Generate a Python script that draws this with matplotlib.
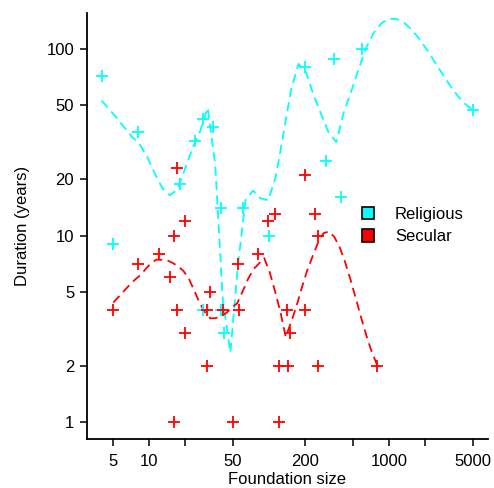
import numpy as np
import matplotlib
matplotlib.use('Agg')
import matplotlib.pyplot as plt
from matplotlib.patches import Patch

plt.rcParams['font.family'] = ['Liberation Sans', 'DejaVu Sans']

# ---- data ----
groups = ['Religious', 'Secular']
colors = {'Religious': '#00FFFF', 'Secular': '#FF0000'}

rel_size = [4, 5, 8, 18, 24, 28, 34, 40, 61, 100, 28, 40, 42, 200, 350, 600, 5000, 300, 400]
rel_duration = [72, 9, 36, 19, 32, 42, 38, 14, 14, 10, 4, 4, 3, 80, 88, 100, 47, 25, 16]

sec_size = [17, 20, 97, 112, 16, 12, 8, 15, 32, 5, 17, 30, 41, 56, 55, 80, 20, 30, 16, 50,
            120, 120, 145, 141, 150, 200, 240, 256, 200, 256, 800]
sec_duration = [23, 12, 12, 13, 10, 8, 7, 6, 5, 4, 4, 4, 4, 4, 7, 8, 3, 2, 1, 1,
                1, 2, 2, 4, 3, 21, 13, 10, 4, 2, 2]

x_ticks = [5, 10, 20, 50, 200, 500, 1000, 2000, 5000]
x_ticklabels = ['5', '10', '', '50', '200', '', '1000', '', '5000']
y_ticks = [1, 2, 5, 10, 20, 50, 100]
y_ticklabels = ['1', '2', '5', '10', '20', '50', '100']

SPAN = 0.3


# ---- loess (degree 1, symmetric family, kd-tree + Hermite interpolation) on log-log scale ----
def _local_fit(x, y, x0, q, span, deg, rw):
    d = np.abs(x - x0)
    rho = np.sort(d)[q - 1] * max(1.0, span)
    u = d / max(rho, 1e-12)
    w = np.where(u < 1, (1 - u ** 3) ** 3, 0.0) * rw
    X = np.vander(x - x0, deg + 1, increasing=True)
    sw = np.sqrt(w)
    beta = np.linalg.lstsq(X * sw[:, None], y * sw, rcond=1e-7)[0]
    return beta[0], (beta[1] if deg >= 1 else 0.0)


def loess_smooth(x, y, span, npts=50, deg=1, iterations=4):
    x = np.asarray(x, float)
    y = np.asarray(y, float)
    n = len(x)
    q = int(np.floor(n * span + 1e-5))
    fc = int(np.floor(n * span * 0.2))
    sx = np.sort(x)
    marg = 0.005 * (sx[-1] - sx[0])
    verts = [sx[0] - marg, sx[-1] + marg]

    def split(pts):
        if len(pts) <= fc:
            return
        m = (len(pts) + 1) // 2
        for off in [0, -1, 1, -2, 2, -3, 3, -4, 4, -5, 5]:
            mm = m + off
            if 1 <= mm < len(pts) and pts[mm - 1] != pts[mm]:
                verts.append(pts[mm - 1])
                split(pts[:mm])
                split(pts[mm:])
                return

    split(sx)
    verts = np.unique(verts)

    def evaluate(rw, pts):
        vals = np.array([_local_fit(x, y, v, q, span, deg, rw) for v in verts])
        out = []
        for a in pts:
            i = min(max(np.searchsorted(verts, a) - 1, 0), len(verts) - 2)
            v0, v1 = verts[i], verts[i + 1]
            h = v1 - v0
            t = (a - v0) / h
            out.append(vals[i, 0] * (2 * t ** 3 - 3 * t ** 2 + 1) + h * vals[i, 1] * (t ** 3 - 2 * t ** 2 + t)
                       + vals[i + 1, 0] * (-2 * t ** 3 + 3 * t ** 2) + h * vals[i + 1, 1] * (t ** 3 - t ** 2))
        return np.array(out)

    rw = np.ones(n)
    for j in range(iterations - 1):
        res = y - evaluate(rw, x)
        cmad = 6 * np.median(np.abs(res))
        uu = np.abs(res) / (cmad + 1e-12)
        rw = np.where(uu < 0.999, (1 - uu ** 2) ** 2, 0.0)
        rw = np.where(uu <= 0.001, 1.0, rw)
    xs = np.linspace(x.min(), x.max(), npts)
    return xs, evaluate(rw, xs)


# ---- figure ----
W, H = 494, 488
fig = plt.figure(figsize=(W / 100, H / 100), dpi=100)
left, right, top, bottom = 86.7, 488.0, 13.0, 439.0
ax = fig.add_axes([left / W, 1 - bottom / H, (right - left) / W, (bottom - top) / H])

data = {'Religious': (rel_size, rel_duration), 'Secular': (sec_size, sec_duration)}
for g in groups:
    sx, sy = data[g]
    lx, ly = loess_smooth(np.log10(sx), np.log10(sy), SPAN)
    ax.plot(10 ** lx, 10 ** ly, color=colors[g], lw=1.3, dashes=(5, 3), zorder=2)
for g in groups:
    sx, sy = data[g]
    ax.plot(sx, sy, linestyle='none', marker='+', color=colors[g], ms=8.5, mew=1.3, zorder=3)

ax.set_xscale('log')
ax.set_yscale('log')
ax.set_xlim(10 ** 0.477, 10 ** 3.827)
ax.set_ylim(10 ** -0.091, 10 ** 2.193)

ax.set_xticks(x_ticks)
ax.set_xticklabels(x_ticklabels)
ax.set_yticks(y_ticks)
ax.set_yticklabels(y_ticklabels)
ax.xaxis.set_minor_locator(matplotlib.ticker.NullLocator())
ax.yaxis.set_minor_locator(matplotlib.ticker.NullLocator())
ax.tick_params(axis='both', direction='out', length=5, width=1.1, labelsize=12, colors='black')
ax.tick_params(axis='x', pad=6)
ax.tick_params(axis='y', pad=4)

for s in ['top', 'right']:
    ax.spines[s].set_visible(False)
for s in ['left', 'bottom']:
    ax.spines[s].set_linewidth(1.3)
    ax.spines[s].set_color('black')

ax.set_xlabel('Foundation size', fontsize=12, va='center')
ax.set_ylabel('Duration (years)', fontsize=12, va='center')
ax.xaxis.set_label_coords(0.5, (bottom - 480) / (bottom - top))
ax.yaxis.set_label_coords((22 - left) / (right - left), 0.5)

handles = [Patch(facecolor=colors[g], edgecolor='black', linewidth=1.2) for g in groups]
leg = ax.legend(handles, groups, loc='center left', bbox_to_anchor=(361.7 / W, 1 - 225.5 / H),
                bbox_transform=fig.transFigure, frameon=False, fontsize=12,
                handlelength=0.75, handleheight=0.75, handletextpad=1.25,
                borderpad=0, borderaxespad=0, labelspacing=0.45)

fig.savefig('out.png', dpi=100)
